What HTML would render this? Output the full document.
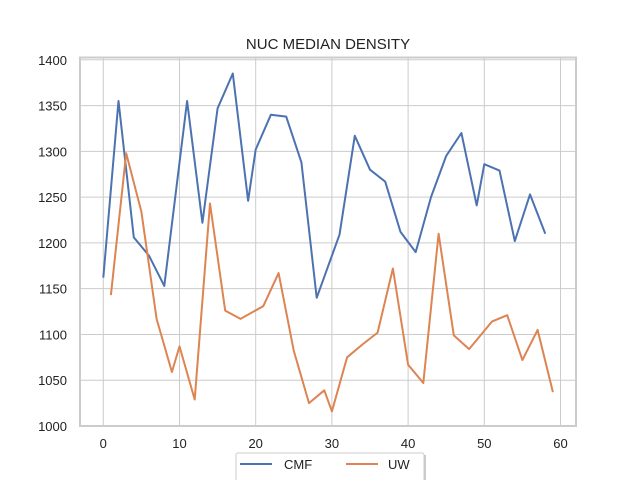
<!DOCTYPE html>
<html><head><meta charset="utf-8"><style>
html,body{margin:0;padding:0;background:#fff;}
svg{display:block;font-family:"Liberation Sans","DejaVu Sans",sans-serif;}
</style></head><body>
<svg id="chart" width="640" height="480" viewBox="0 0 640 480" xmlns="http://www.w3.org/2000/svg">
<text x="328" y="49" text-anchor="middle" font-size="15" fill="#222">NUC MEDIAN DENSITY</text>
<g id="grid"></g>
<g id="series"></g>
<rect x="80" y="57.5" width="496" height="368.5" fill="none" stroke="#ccc" stroke-width="2"/>
<g id="ticks"></g>
<g>
<rect x="238" y="455" width="188" height="30" fill="#999" opacity="0.5"/>
<rect x="236" y="453" width="188" height="30" rx="2" fill="#fff" stroke="#ccc" stroke-width="1"/>
<line x1="240" y1="464" x2="272" y2="464" stroke="#4c72b0" stroke-width="2"/>
<text x="284" y="469" font-size="13" fill="#222">CMF</text>
<line x1="346" y1="464" x2="378" y2="464" stroke="#dd8452" stroke-width="2"/>
<text x="388" y="469" font-size="13" fill="#222">UW</text>
</g>
</svg>
<script>
const cmfX = [0,2,4,6,8,11,13,15,17,19,20,22,24,26,28,31,33,35,37,39,41,43,45,47,49,50,52,54,56,58];
const cmfY = [1162,1355,1206,1186,1153,1355,1222,1347,1385,1246,1302,1340,1338,1288,1140,1209,1317,1280,1267,1212,1190,1250,1295,1320,1241,1286,1279,1202,1253,1210];
const uwX = [1,3,5,7,9,10,12,14,16,18,21,23,25,27,29,30,32,34,36,38,40,42,44,46,48,51,53,55,57,59];
const uwY = [1143,1298,1234,1117,1059,1087,1029,1243,1126,1117,1131,1167,1082,1025,1039,1016,1075,1089,1102,1172,1067,1047,1210,1099,1084,1114,1121,1072,1105,1037];
const xTicks = [0,10,20,30,40,50,60];
const yTicks = [1000,1050,1100,1150,1200,1250,1300,1350,1400];
const NS='http://www.w3.org/2000/svg';
function sx(v){return 103.3+v*7.62;}
function sy(v){return 426-(v-1000)*0.9155;}
const grid=document.getElementById('grid'), ticks=document.getElementById('ticks'), series=document.getElementById('series');
xTicks.forEach(t=>{
  const l=document.createElementNS(NS,'line');
  
  
  l.setAttribute('x1',sx(t));l.setAttribute('x2',sx(t));l.setAttribute('y1',57.5);l.setAttribute('y2',426);
  l.setAttribute('stroke','#ccc');l.setAttribute('stroke-width','1');grid.appendChild(l);
  const tx=document.createElementNS(NS,'text');
  
  
  tx.setAttribute('x',sx(t));tx.setAttribute('y',448);tx.setAttribute('text-anchor','middle');
  tx.setAttribute('font-size','13');tx.setAttribute('fill','#222');tx.textContent=t;ticks.appendChild(tx);
});
yTicks.forEach(t=>{
  const l=document.createElementNS(NS,'line');
  
  
  l.setAttribute('x1',80);l.setAttribute('x2',576);l.setAttribute('y1',sy(t));l.setAttribute('y2',sy(t));
  l.setAttribute('stroke','#ccc');l.setAttribute('stroke-width','1');grid.appendChild(l);
  const tx=document.createElementNS(NS,'text');
  
  
  tx.setAttribute('x',67);tx.setAttribute('y',sy(t)+5);tx.setAttribute('text-anchor','end');
  tx.setAttribute('font-size','13');tx.setAttribute('fill','#222');tx.textContent=t;ticks.appendChild(tx);
});
function drawLine(xs,ys,color,name){
  const p=document.createElementNS(NS,'polyline');
  
  
  p.setAttribute('points',xs.map((x,i)=>sx(x).toFixed(1)+','+sy(ys[i]).toFixed(1)).join(' '));
  p.setAttribute('fill','none');p.setAttribute('stroke',color);p.setAttribute('stroke-width','2');
  p.setAttribute('stroke-linejoin','round');
  series.appendChild(p);
}
drawLine(cmfX,cmfY,'#4c72b0','cmf-line');
drawLine(uwX,uwY,'#dd8452','uw-line');
</script>
</body></html>
